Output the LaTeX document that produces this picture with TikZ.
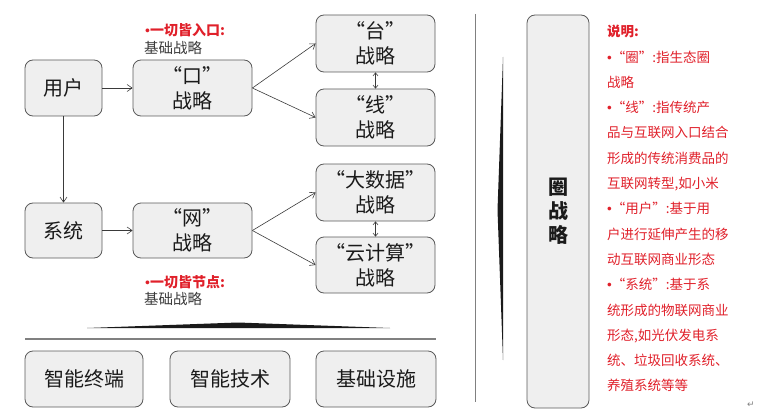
\documentclass[tikz,border=0pt]{standalone}
\usepackage{fontspec}
\setmainfont{Liberation Sans}
\newfontfamily\cjk{Noto Sans CJK SC}
\newfontfamily\symfont{DejaVu Sans}
\newcommand{\dotmark}{{\rmfamily\mdseries •}}
\usetikzlibrary{arrows.meta,positioning}
\definecolor{boxfill}{HTML}{EFEFEF}
\definecolor{boxline}{HTML}{5A5A5A}
\definecolor{notered}{HTML}{E0202A}
\definecolor{ink}{HTML}{1A1A1A}
\definecolor{inkgray}{HTML}{3A3A3A}
\definecolor{rulegray}{HTML}{808080}
\tikzset{
  stratbox/.style={draw=boxline,fill=boxfill,line width=0.8pt,
                   rounded corners=8pt,align=center,inner sep=2pt,
                   font=\cjk\fontsize{20}{25}\selectfont,text=ink},
  tagred/.style={anchor=west,inner sep=0pt,text=notered,
                 font=\cjk\bfseries\fontsize{14}{16}\selectfont},
  taggray/.style={anchor=west,inner sep=0pt,text=inkgray,
                  font=\cjk\fontsize{14.5}{16}\selectfont},
  flowarr/.style={-{Straight Barb[length=5pt,width=7pt]},line width=0.6pt,color=inkgray},
  duoarr/.style={{Straight Barb[length=3pt,width=5pt]}-{Straight Barb[length=3pt,width=5pt]},
                 line width=0.6pt,color=inkgray}
}

\begin{document}
\begin{tikzpicture}[x=1pt,y=-1pt]
  \useasboundingbox (0,0) rectangle (770,417);
  % left block: entries and nodes
  \node[stratbox,minimum width=77,minimum height=56] (user) at (63.5,88) {用户};
  \node[stratbox,minimum width=119,minimum height=56] (kou) at (192.5,88) {“口”\\战略};
  \node[stratbox,minimum width=119,minimum height=57] (tai) at (375.5,43.5) {“台”\\战略};
  \node[stratbox,minimum width=119,minimum height=57] (xian) at (375.5,117.5) {“线”\\战略};
  \node[stratbox,minimum width=77,minimum height=55] (sys) at (63.5,230.5) {系统};
  \node[stratbox,minimum width=119,minimum height=55] (wang) at (192.5,230.5) {“网”\\战略};
  \node[stratbox,minimum width=119,minimum height=57] (shuju) at (375.5,192.5) {“大数据”\\战略};
  \node[stratbox,minimum width=119,minimum height=56] (yun) at (375.5,265) {“云计算”\\战略};

  \node[tagred] (tagkou) at (145,30) {\dotmark 一切皆入口:};
  \node[taggray] (basekou) at (144,48) {基础战略};
  \node[tagred] (tagwang) at (145,282) {\dotmark 一切皆节点:};
  \node[taggray] (basewang) at (144,299) {基础战略};

  \draw[flowarr] (user) -- (kou);
  \draw[flowarr] (kou.east) -- (tai.west);
  \draw[flowarr] (kou.east) -- (xian.west);
  \draw[duoarr] (tai) -- (xian);
  \draw[flowarr] (user) -- (sys);
  \draw[flowarr] (sys) -- (wang);
  \draw[flowarr] (wang.east) -- (shuju.west);
  \draw[flowarr] (wang.east) -- (yun.west);
  \draw[duoarr] (shuju) -- (yun);

  % base layer
  \fill[ink] (87,328) -- (238,322.5) -- (390,328) -- cycle;
  \draw[rulegray,line width=1.2pt] (25,339) -- (436,339);
  \node[stratbox,minimum width=118,minimum height=56] (zhongduan) at (84,379) {智能终端};
  \node[stratbox,minimum width=120,minimum height=56] (jishu) at (230,379) {智能技术};
  \node[stratbox,minimum width=120,minimum height=56] (sheshi) at (376,379) {基础设施};

  % right block
  \draw[rulegray,line width=1pt] (475,14) -- (475,402);
  \fill[ink] (503,57) -- (497.5,210) -- (503,360) -- cycle;
  \node[stratbox,minimum width=62,minimum height=393,
        font=\cjk\bfseries\fontsize{20}{24}\selectfont] (quan) at (558,211.5) {圈\\战\\略};

  \node[anchor=north west,inner sep=0pt,align=left,text=notered,
        font=\cjk\fontsize{13.5}{25.3}\selectfont] (notes) at (607,25)
    {{\bfseries 说明:}\\
     \dotmark“圈”:指生态圈\\
     战略\\
     \dotmark“线”:指传统产\\
     品与互联网入口结合\\
     形成的传统消费品的\\
     互联网转型,如小米\\
     \dotmark“用户”:基于用\\
     户进行延伸产生的移\\
     动互联网商业形态\\
     \dotmark“系统”:基于系\\
     统形成的物联网商业\\
     形态,如光伏发电系\\
     统、垃圾回收系统、\\
     养殖系统等等};
  \node[inner sep=0pt,text=rulegray,font=\symfont\fontsize{9}{10}\selectfont] (mark) at (751,405) {↵};
\end{tikzpicture}
\end{document}
